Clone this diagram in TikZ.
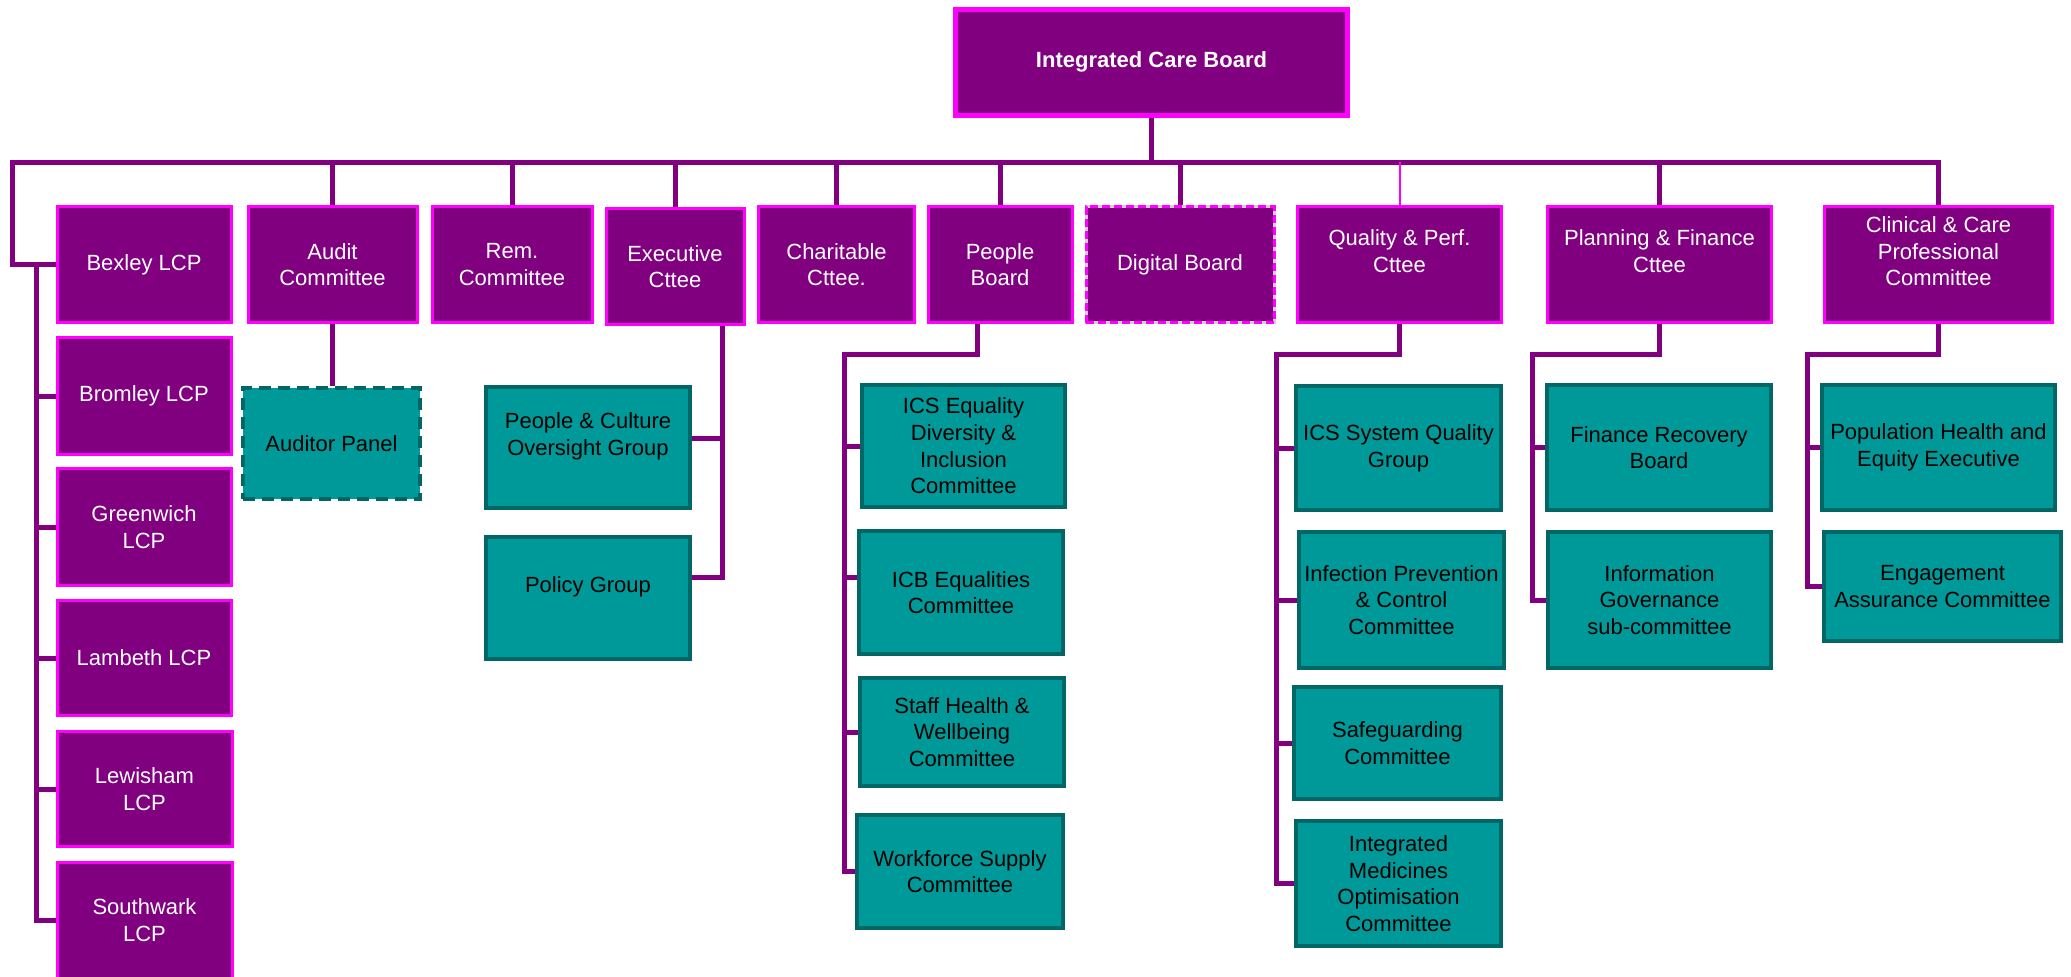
\documentclass[tikz,border=0pt]{standalone}
\usepackage{fontspec}
\setmainfont{Liberation Sans}
\usetikzlibrary{calc}

\definecolor{icbpurple}{HTML}{800080}
\definecolor{icbmagenta}{HTML}{FF00FF}
\definecolor{icbteal}{HTML}{009999}
\definecolor{icbtealdark}{HTML}{006666}

\begin{document}
\begin{tikzpicture}[x=0.5pt, y=-0.5pt,
    pbox/.style={draw=icbmagenta, fill=icbpurple, line width=1.5pt, text=white,
      align=center, inner sep=1pt, font=\fontsize{11}{13.3}\selectfont},
    tbox/.style={draw=icbtealdark, fill=icbteal, line width=2.2pt, text=black,
      align=center, inner sep=1pt, font=\fontsize{11}{13.3}\selectfont},
    link/.style={draw=icbpurple, line width=2.5pt}]
  \useasboundingbox (0,0) rectangle (2071,976);

  % board
  \node[pbox, line width=2.5pt, minimum width=196pt, minimum height=53pt,
    font=\fontsize{11}{13.3}\selectfont\bfseries] (icb) at (1151.5,62) {Integrated Care Board};

  % committees
  \node[pbox, minimum width=87pt, minimum height=58pt] (bexley) at (144,264.5) {Bexley LCP};
  \node[pbox, minimum width=84.5pt, minimum height=58pt] (audit) at (332.5,264.5) {Audit\\Committee};
  \node[pbox, minimum width=80pt, minimum height=58pt] (rem) at (512,264.5) {Rem.\\Committee};
  \node[pbox, minimum width=69pt, minimum height=58pt] (exec) at (675,266.5) {Executive\\Cttee};
  \node[pbox, minimum width=78pt, minimum height=58pt] (charit) at (836.5,264.5) {Charitable\\Cttee.};
  \node[pbox, minimum width=72pt, minimum height=58pt] (people) at (1000,264.5) {People\\Board};
  \node[pbox, draw=gray!35, postaction={draw=icbmagenta, dash pattern=on 4pt off 2pt},
    minimum width=94pt, minimum height=58pt] (digital) at (1180,264.5) {Digital Board};
  \node[pbox, minimum width=102pt, minimum height=58pt] (quality) at (1399.5,264.5) {Quality \& Perf.\\Cttee\\\mbox{}};
  \node[pbox, minimum width=112pt, minimum height=58pt] (planning) at (1659.5,264.5) {Planning \& Finance\\Cttee\\\mbox{}};
  \node[pbox, minimum width=114pt, minimum height=58pt] (clinical) at (1938.5,264.5) {Clinical \& Care\\Professional\\Committee\\\mbox{}};

  % local care partnerships
  \node[pbox, minimum width=87pt, minimum height=58.5pt] (bromley) at (144,396) {Bromley LCP};
  \node[pbox, minimum width=87pt, minimum height=58.5pt] (greenwich) at (144,527) {Greenwich\\LCP};
  \node[pbox, minimum width=87pt, minimum height=57.5pt] (lambeth) at (144,658) {Lambeth LCP};
  \node[pbox, minimum width=87.5pt, minimum height=57.5pt] (lewisham) at (144.5,789) {Lewisham\\LCP};
  \node[pbox, minimum width=87.5pt, minimum height=58pt] (southwark) at (144.5,920) {Southwark\\LCP};

  % sub-groups
  \node[tbox, dash pattern=on 6pt off 3.5pt, minimum width=88.5pt, minimum height=55.5pt] (auditor) at (331.5,443.5) {Auditor Panel};
  \node[tbox, minimum width=101.8pt, minimum height=60.3pt] (pcog) at (588,447.5) {People \& Culture\\Oversight Group\\\mbox{}};
  \node[tbox, minimum width=101.8pt, minimum height=60.8pt] (policy) at (588,598) {Policy Group\\\mbox{}};
  \node[tbox, minimum width=101.3pt, minimum height=60.8pt] (icsedi) at (963.5,446) {ICS Equality\\Diversity \&\\Inclusion\\Committee};
  \node[tbox, minimum width=101.8pt, minimum height=61.3pt] (icbeq) at (961,592.5) {ICB Equalities\\Committee};
  \node[tbox, minimum width=101.8pt, minimum height=53.8pt] (staff) at (962,732) {Staff Health \&\\Wellbeing\\Committee};
  \node[tbox, minimum width=102.8pt, minimum height=56.3pt] (workforce) at (960,871.5) {Workforce Supply\\Committee};
  \node[tbox, minimum width=102.3pt, minimum height=61.8pt] (icssq) at (1398.5,448) {ICS System Quality\\Group};
  \node[tbox, minimum width=102.3pt, minimum height=67.8pt] (ipc) at (1401.5,600) {Infection Prevention\\\& Control\\Committee};
  \node[tbox, minimum width=103.3pt, minimum height=55.8pt] (safeg) at (1397.5,743) {Safeguarding\\Committee};
  \node[tbox, minimum width=102.3pt, minimum height=62.3pt] (imoc) at (1398.5,883.5) {Integrated\\Medicines\\Optimisation\\Committee};
  \node[tbox, minimum width=111.8pt, minimum height=62.3pt] (frb) at (1659,447.5) {Finance Recovery\\Board};
  \node[tbox, minimum width=111.3pt, minimum height=67.8pt] (igsc) at (1659.5,600) {Information\\Governance\\sub-committee};
  \node[tbox, minimum width=116.3pt, minimum height=62.3pt] (phee) at (1938.5,447.5) {Population Health and\\Equity Executive};
  \node[tbox, minimum width=118.3pt, minimum height=54.3pt] (eac) at (1942.5,586.5) {Engagement\\Assurance Committee};

  % bus lines
  \coordinate (bus) at (1151,162);
  \coordinate (lcpjoin) at (36,264.5);
  \coordinate (execline) at (722,0);
  \coordinate (peoplebus) at (844,354);
  \coordinate (qualitybus) at (1276,354);
  \coordinate (planbus) at (1532,354);
  \coordinate (clinbus) at (1807,354);

  \draw[link] (icb) -- (icb |- bus);
  \draw[link] (bexley.west) -| (12,162) -| (clinical.north);
  \foreach \n in {audit,rem,exec,charit,people,digital,planning}
    \draw[link] (\n.north |- bus) -- (\n.north);
  \draw[icbmagenta, line width=1pt] (quality.north |- bus) -- (quality.north);

  \draw[link] (lcpjoin) |- (southwark.west);
  \foreach \n in {bromley,greenwich,lambeth,lewisham}
    \draw[link] (lcpjoin |- \n.west) -- (\n.west);

  \draw[link] (audit.south) -- (audit.south |- auditor.north);

  \draw[link] (exec.south -| execline) |- ($(policy.east)+(0,-21)$);
  \draw[link] ($(pcog.east)+(0,-9.5)$) -- ++(30,0);

  \draw[link] (people.south -| 977,0) |- (peoplebus) |- (workforce.west);
  \foreach \n in {icsedi,staff}
    \draw[link] (peoplebus |- \n.west) -- (\n.west);
  \draw[link] ($(peoplebus |- icbeq.west)+(0,-15)$) -- ($(icbeq.west)+(0,-15)$);

  \draw[link] (quality.south) |- (qualitybus) |- (imoc.west);
  \foreach \n in {icssq,ipc,safeg}
    \draw[link] (qualitybus |- \n.west) -- (\n.west);

  \draw[link] (planning.south) |- (planbus) |- (igsc.west);
  \draw[link] (planbus |- frb.west) -- (frb.west);

  \draw[link] (clinical.south) |- (clinbus) |- (eac.west);
  \draw[link] (clinbus |- phee.west) -- (phee.west);
\end{tikzpicture}
\end{document}
